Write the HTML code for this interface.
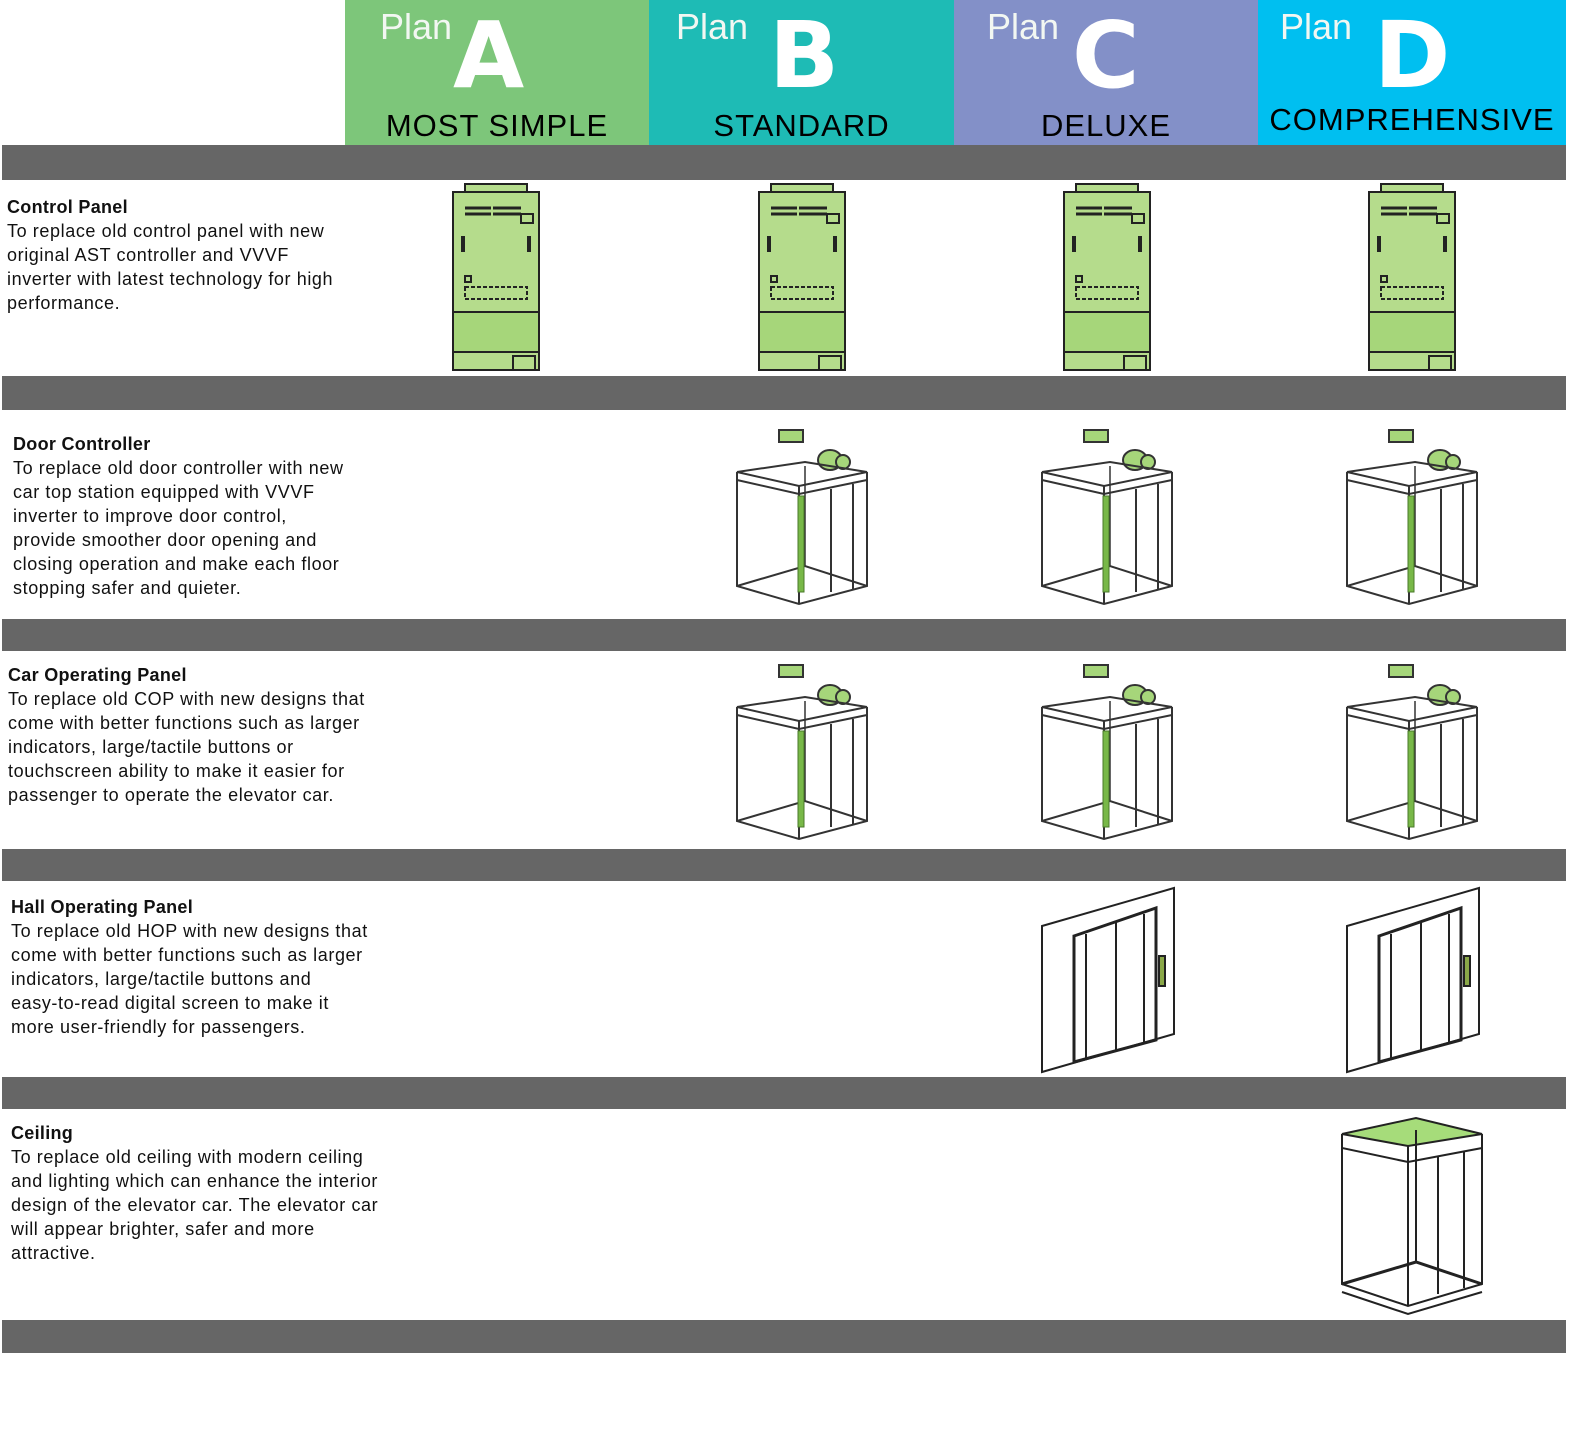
<!DOCTYPE html>
<html><head><meta charset="utf-8"><style>
body{margin:0;width:1576px;height:1440px;background:#fff;position:relative;overflow:hidden;font-family:"Liberation Sans",sans-serif}
.h{position:absolute;top:0;height:145px}
.plan{position:absolute;top:6px;color:#f2f7f2;font-size:36px}
.big{position:absolute;top:2px;color:#fff;font-size:92px;font-weight:bold;font-family:"DejaVu Sans","Liberation Sans",sans-serif}
.sub{position:absolute;top:108px;width:100%;text-align:center;font-size:31px;color:#000;letter-spacing:1px}
.bar{position:absolute;left:2px;width:1564px;background:#666}
.t{position:absolute;font-size:18px;letter-spacing:0.6px;line-height:24px;color:#111}
.t b{display:block;letter-spacing:0.3px}
svg{position:absolute;left:0;top:0}
</style></head><body>
<div class="h" style="left:345px;width:304px;background:#7dc67a"><span class="plan" style="left:35px">Plan</span><span class="big" style="left:108px">A</span><div class="sub">MOST SIMPLE</div></div>
<div class="h" style="left:649px;width:305px;background:#1ebbb5"><span class="plan" style="left:27px">Plan</span><span class="big" style="left:120px">B</span><div class="sub">STANDARD</div></div>
<div class="h" style="left:954px;width:304px;background:#8390c8"><span class="plan" style="left:33px">Plan</span><span class="big" style="left:118px">C</span><div class="sub">DELUXE</div></div>
<div class="h" style="left:1258px;width:308px;background:#00bff0"><span class="plan" style="left:22px">Plan</span><span class="big" style="left:116px">D</span><div class="sub" style="top:102px">COMPREHENSIVE</div></div>

<div class="bar" style="top:145px;height:35px"></div>
<div class="bar" style="top:376px;height:34px"></div>
<div class="bar" style="top:619px;height:32px"></div>
<div class="bar" style="top:849px;height:32px"></div>
<div class="bar" style="top:1077px;height:32px"></div>
<div class="bar" style="top:1320px;height:33px"></div>

<div class="t" style="left:7px;top:195px"><b>Control Panel</b>To replace old control panel with new<br>original AST controller and VVVF<br>inverter with latest technology for high<br>performance.</div>
<div class="t" style="left:13px;top:432px"><b>Door Controller</b>To replace old door controller with new<br>car top station equipped with VVVF<br>inverter to improve door control,<br>provide smoother door opening and<br>closing operation and make each floor<br>stopping safer and quieter.</div>
<div class="t" style="left:8px;top:663px"><b>Car Operating Panel</b>To replace old COP with new designs that<br>come with better functions such as larger<br>indicators, large/tactile buttons or<br>touchscreen ability to make it easier for<br>passenger to operate the elevator car.</div>
<div class="t" style="left:11px;top:895px"><b>Hall Operating Panel</b>To replace old HOP with new designs that<br>come with better functions such as larger<br>indicators, large/tactile buttons and<br>easy-to-read digital screen to make it<br>more user-friendly for passengers.</div>
<div class="t" style="left:11px;top:1121px"><b>Ceiling</b>To replace old ceiling with modern ceiling<br>and lighting which can enhance the interior<br>design of the elevator car. The elevator car<br>will appear brighter, safer and more<br>attractive.</div>

<svg width="1576" height="1440">
<defs>
<g id="cp" stroke="#222" stroke-width="2" fill="#b5dc8c">
<rect x="14" y="0" width="62" height="10" fill="#b5dc8c"/>
<rect x="2" y="8" width="86" height="178"/>
<rect x="2" y="128" width="86" height="40" fill="#a6d67a"/>
<line x1="14" y1="24" x2="40" y2="24" stroke-width="3"/><line x1="14" y1="30" x2="40" y2="30" stroke-width="3"/>
<line x1="42" y1="24" x2="70" y2="24" stroke-width="3"/><line x1="42" y1="30" x2="70" y2="30" stroke-width="3"/>
<rect x="70" y="30" width="12" height="9" fill="none"/>
<line x1="12" y1="52" x2="12" y2="68" stroke-width="4"/><line x1="78" y1="52" x2="78" y2="68" stroke-width="4"/>
<rect x="14" y="92" width="6" height="6" fill="none"/>
<rect x="14" y="103" width="62" height="12" fill="none" stroke-dasharray="4 2"/>
<rect x="62" y="172" width="22" height="14" fill="none"/>
</g>
<g id="car" stroke="#333" stroke-width="2" fill="none">
<rect x="44" y="6" width="24" height="12" fill="#a6d67a"/>
<ellipse cx="95" cy="36" rx="12" ry="10" fill="#a6d67a"/><circle cx="108" cy="38" r="7" fill="#a6d67a"/>
<path d="M2 48 L70 38 L132 48 L64 62 Z"/>
<path d="M2 56 L64 70 L132 56"/>
<path d="M2 48 V162 L64 180 L132 162 V48"/>
<line x1="64" y1="62" x2="64" y2="180"/>
<path d="M2 162 L70 142 L132 162" />
<line x1="70" y1="42" x2="70" y2="142" stroke-width="1.5"/>
<line x1="96" y1="65" x2="96" y2="168"/><line x1="118" y1="60" x2="118" y2="165"/>
<rect x="63" y="72" width="6" height="96" fill="#78b848" stroke="#4a7a2a" stroke-width="1"/>
</g>
<g id="hall" stroke="#222" stroke-width="2" fill="none">
<path d="M2 40 L134 2 V148 L2 186 Z" fill="#fff"/>
<path d="M34 50 L116 22 V154 L34 176 Z" stroke-width="3"/>
<line x1="46" y1="48" x2="46" y2="172"/><line x1="76" y1="36" x2="76" y2="165"/><line x1="104" y1="28" x2="104" y2="158"/>
<rect x="119" y="70" width="6" height="30" fill="#8aa848"/>
</g>
<g id="ceil" stroke="#222" stroke-width="2" fill="none">
<path d="M2 18 L76 2 L142 18 L68 30 Z" fill="#a6dc7a"/>
<path d="M2 18 V32 L68 46 L142 32 V18"/>
<line x1="68" y1="30" x2="68" y2="46"/>
<path d="M2 32 V168 L68 190 L142 168 V32"/>
<line x1="68" y1="46" x2="68" y2="190"/>
<line x1="98" y1="40" x2="98" y2="178"/><line x1="124" y1="36" x2="124" y2="172"/>
<path d="M2 168 L76 146 L142 168" stroke-width="3"/>
<path d="M2 176 L68 198 L142 176" stroke-width="2"/>
<line x1="76" y1="14" x2="76" y2="146"/>
</g>
</defs>
<use href="#cp" x="451" y="184"/><use href="#cp" x="757" y="184"/><use href="#cp" x="1062" y="184"/><use href="#cp" x="1367" y="184"/>
<use href="#car" x="735" y="424"/><use href="#car" x="1040" y="424"/><use href="#car" x="1345" y="424"/>
<use href="#car" x="735" y="659"/><use href="#car" x="1040" y="659"/><use href="#car" x="1345" y="659"/>
<use href="#hall" x="1040" y="886"/><use href="#hall" x="1345" y="886"/>
<use href="#ceil" x="1340" y="1116"/>
</svg>
</body></html>
